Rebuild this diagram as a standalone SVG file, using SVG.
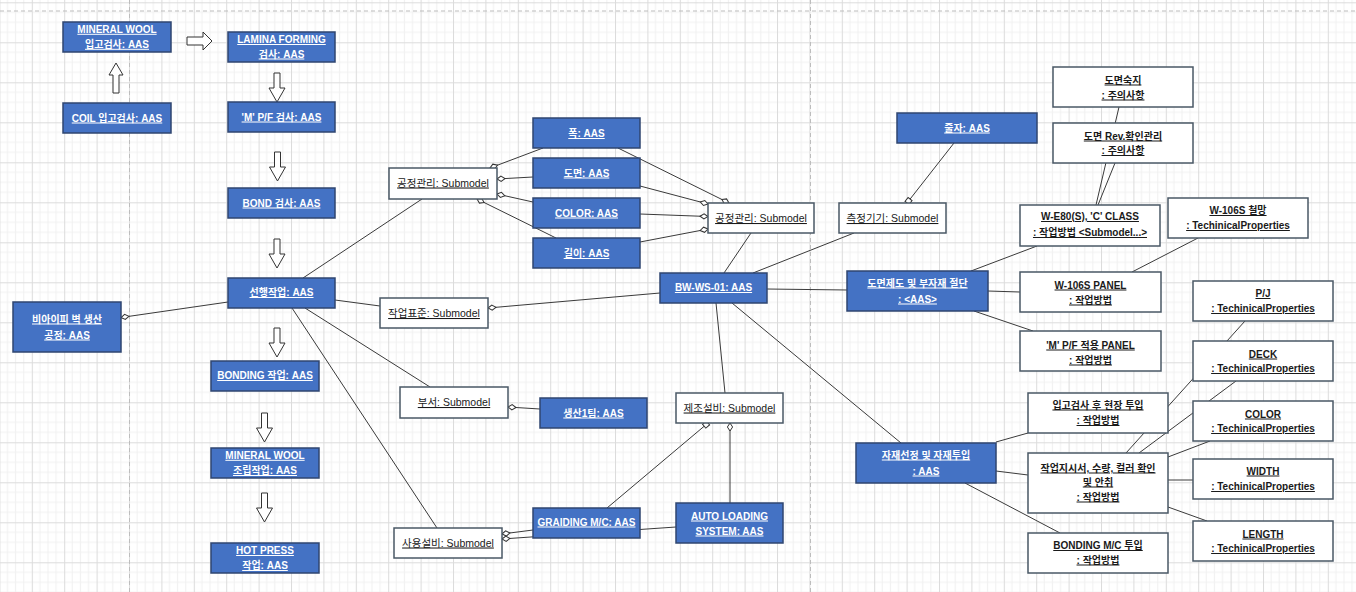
<svg xmlns="http://www.w3.org/2000/svg" xmlns:xlink="http://www.w3.org/1999/xlink" width="1356" height="592" viewBox="0 0 1356 592">
<defs>
<pattern id="grid" patternUnits="userSpaceOnUse" x="-0.6" y="2.3" width="32.4" height="40">
<rect width="32.4" height="40" fill="#fff"/>
<path d="M8.1 0V40M16.2 0V40M24.3 0V40M0 10H32.4M0 20H32.4M0 30H32.4" stroke="#f1f1f1" stroke-width="1"/>
<path d="M0.5 0V40M0 0.5H32.4" stroke="#dcdcdc" stroke-width="1"/>
</pattern>
<marker id="dia" markerUnits="userSpaceOnUse" viewBox="-1 -4 11 8" refX="8" refY="0" markerWidth="11" markerHeight="8" orient="auto">
<path d="M0 0L4 -2.6L8 0L4 2.6Z" fill="#fff" stroke="#333" stroke-width="1"/>
</marker>
<marker id="sq" markerUnits="userSpaceOnUse" viewBox="-1 -4 8 8" refX="5" refY="0" markerWidth="8" markerHeight="8" orient="auto">
<path d="M0 -2.5H5V2.5H0Z" fill="#fff" stroke="#333" stroke-width="1"/>
</marker>
<path id="dn" d="M-3 0H3V15H8L0 29L-8 15H-3Z"/>
<path id="up" d="M0 0L7 12H3V30H-3V12H-7Z"/>
<style>
.b{fill:#4472C4;stroke:#2F4670;stroke-width:1.5}
.w{fill:#fff;stroke:#4A5866;stroke-width:1.5}
text{font-family:"Liberation Sans","Noto Sans CJK KR",sans-serif;text-anchor:middle;text-decoration:underline}
.tb{font-size:10px;font-weight:bold;fill:#fff}
.td{font-size:10px;font-weight:bold;fill:#1a1a1a}
.ts{font-size:10.5px;fill:#1a1a1a}
.c{stroke:#3a3a3a;stroke-width:1;fill:none}
.ar{fill:#fff;stroke:#333;stroke-width:1}
.pg{stroke:#bdbdbd;stroke-width:1;stroke-dasharray:4 3}
</style>
</defs>
<rect width="1356" height="592" fill="url(#grid)"/>
<path class="pg" d="M0 11H1356M129.5 0V592M810.5 0V592"/>

<g id="block-arrows">
<path class="ar" d="M187 37H203V32L212 41L203 50V45H187Z"/>
<use class="ar" href="#up" transform="translate(116,63)"/>
<use class="ar" href="#dn" transform="translate(277,73)"/>
<use class="ar" href="#dn" transform="translate(277.5,152)"/>
<use class="ar" href="#dn" transform="translate(277,239)"/>
<use class="ar" href="#dn" transform="translate(277,328)"/>
<use class="ar" href="#dn" transform="translate(264.5,413)"/>
<use class="ar" href="#dn" transform="translate(264.5,493)"/>
</g>

<g id="connectors">
<line class="c" x1="228" y1="302" x2="121" y2="317.5" marker-end="url(#dia)"/>
<line class="c" x1="303" y1="278" x2="422" y2="199"/>
<line class="c" x1="543" y1="148" x2="490" y2="168" marker-end="url(#dia)"/>
<line class="c" x1="533" y1="177" x2="497" y2="179" marker-end="url(#dia)"/>
<line class="c" x1="533" y1="202" x2="497" y2="194" marker-end="url(#dia)"/>
<line class="c" x1="556" y1="238" x2="477" y2="199" marker-end="url(#dia)"/>
<line class="c" x1="618" y1="148" x2="729" y2="203" marker-end="url(#dia)"/>
<line class="c" x1="640" y1="186" x2="708" y2="204" marker-end="url(#dia)"/>
<line class="c" x1="640" y1="214" x2="708" y2="216.5" marker-end="url(#dia)"/>
<line class="c" x1="640" y1="242" x2="708" y2="229" marker-end="url(#dia)"/>
<line class="c" x1="751" y1="233" x2="724" y2="273"/>
<line class="c" x1="854" y1="233" x2="753" y2="273"/>
<line class="c" x1="954" y1="143" x2="907" y2="203" marker-end="url(#sq)"/>
<line class="c" x1="335" y1="300" x2="380" y2="306"/>
<line class="c" x1="660" y1="293" x2="488" y2="308" marker-end="url(#dia)"/>
<line class="c" x1="305" y1="308" x2="430" y2="387"/>
<line class="c" x1="540" y1="409" x2="508" y2="407" marker-end="url(#dia)"/>
<line class="c" x1="292" y1="308" x2="437" y2="528"/>
<line class="c" x1="533" y1="530" x2="502" y2="534" marker-end="url(#dia)"/>
<line class="c" x1="676" y1="527" x2="502" y2="539" marker-end="url(#dia)"/>
<line class="c" x1="607" y1="508" x2="708" y2="423" marker-end="url(#sq)"/>
<line class="c" x1="730" y1="503" x2="730" y2="423" marker-end="url(#dia)"/>
<line class="c" x1="716" y1="303" x2="725" y2="393"/>
<line class="c" x1="732" y1="303" x2="901" y2="443"/>
<line class="c" x1="767" y1="289" x2="847" y2="290"/>
<line class="c" x1="971" y1="271" x2="1037" y2="246"/>
<line class="c" x1="988" y1="291" x2="1020" y2="292"/>
<line class="c" x1="974" y1="311" x2="1033" y2="331"/>
<line class="c" x1="1096" y1="205" x2="1119" y2="107"/>
<line class="c" x1="1098" y1="205" x2="1115" y2="163"/>
<line class="c" x1="1198" y1="238" x2="1132" y2="272"/>
<line class="c" x1="996" y1="442" x2="1028" y2="433"/>
<line class="c" x1="996" y1="471" x2="1028" y2="475"/>
<line class="c" x1="965" y1="483" x2="1060" y2="533"/>
<line class="c" x1="1245" y1="321" x2="1126" y2="453"/>
<line class="c" x1="1236" y1="381" x2="1139" y2="453"/>
<line class="c" x1="1210" y1="441" x2="1168" y2="457"/>
<line class="c" x1="1193" y1="480" x2="1168" y2="480"/>
<line class="c" x1="1207" y1="521" x2="1168" y2="507"/>
</g>

<g id="n-mineral-wool"><rect class="b" x="63" y="22" width="108" height="30"/><text class="tb" x="117" y="32.8">MINERAL WOOL</text><text class="tb" x="117" y="47.8">입고검사: AAS</text></g>
<g id="n-lamina"><rect class="b" x="228" y="32" width="107" height="30"/><text class="tb" x="281.5" y="43">LAMINA FORMING</text><text class="tb" x="281.5" y="57.5">검사: AAS</text></g>
<g id="n-coil"><rect class="b" x="63" y="103" width="108" height="30"/><text class="tb" x="117" y="121.5">COIL 입고검사: AAS</text></g>
<g id="n-mpf"><rect class="b" x="228" y="102" width="107" height="30"/><text class="tb" x="281.5" y="120.5">'M' P/F 검사: AAS</text></g>
<g id="n-bond"><rect class="b" x="228" y="188" width="107" height="30"/><text class="tb" x="281.5" y="206.5">BOND 검사: AAS</text></g>
<g id="n-prework"><rect class="b" x="228" y="278" width="107" height="30"/><text class="tb" x="281.5" y="296">선행작업: AAS</text></g>
<g id="n-bip"><rect class="b" x="13" y="302" width="108" height="50"/><text class="tb" x="67" y="322.5">비아이피 벽 생산</text><text class="tb" x="67" y="338.5">공정: AAS</text></g>
<g id="n-bonding"><rect class="b" x="211" y="361" width="108" height="30"/><text class="tb" x="265" y="379">BONDING 작업: AAS</text></g>
<g id="n-mw-assembly"><rect class="b" x="211" y="448" width="108" height="30"/><text class="tb" x="265" y="458.8">MINERAL WOOL</text><text class="tb" x="265" y="474">조립작업: AAS</text></g>
<g id="n-hotpress"><rect class="b" x="211" y="543" width="108" height="30"/><text class="tb" x="265" y="554">HOT PRESS</text><text class="tb" x="265" y="569">작업: AAS</text></g>

<g id="n-pok"><rect class="b" x="533" y="118" width="107" height="30"/><text class="tb" x="586.5" y="137">폭: AAS</text></g>
<g id="n-domyeon"><rect class="b" x="533" y="158" width="107" height="30"/><text class="tb" x="586.5" y="176.5">도면: AAS</text></g>
<g id="n-color"><rect class="b" x="533" y="198" width="107" height="30"/><text class="tb" x="586.5" y="216.5">COLOR: AAS</text></g>
<g id="n-length"><rect class="b" x="533" y="238" width="107" height="30"/><text class="tb" x="586.5" y="257">길이: AAS</text></g>
<g id="n-team"><rect class="b" x="540" y="398" width="107" height="30"/><text class="tb" x="593.5" y="416.5">생산1팀: AAS</text></g>
<g id="n-bwws"><rect class="b" x="660" y="273" width="107" height="30"/><text class="tb" x="713.5" y="291">BW-WS-01: AAS</text></g>
<g id="n-ruler"><rect class="b" x="897" y="113" width="140" height="30"/><text class="tb" x="967" y="131.5">줄자: AAS</text></g>
<g id="n-drawing"><rect class="b" x="847" y="271" width="141" height="40"/><text class="tb" x="917.5" y="286.5">도면제도 및 부자재 절단</text><text class="tb" x="917.5" y="302.5">: &lt;AAS&gt;</text></g>
<g id="n-grading"><rect class="b" x="533" y="508" width="107" height="30"/><text class="tb" x="586.5" y="525.5">GRAIDING M/C: AAS</text></g>
<g id="n-autoload"><rect class="b" x="676" y="503" width="107" height="40"/><text class="tb" x="729.5" y="519.5">AUTO LOADING</text><text class="tb" x="729.5" y="534.5">SYSTEM: AAS</text></g>
<g id="n-material"><rect class="b" x="856" y="443" width="140" height="40"/><text class="tb" x="926" y="458.5">자재선정 및 자재투입</text><text class="tb" x="926" y="474.5">: AAS</text></g>

<g id="s-process-l"><rect class="w" x="389" y="168" width="108" height="31"/><text class="ts" x="443" y="186.5">공정관리: Submodel</text></g>
<g id="s-process-r"><rect class="w" x="708" y="203" width="106" height="30"/><text class="ts" x="761" y="222">공정관리: Submodel</text></g>
<g id="s-measure"><rect class="w" x="839" y="203" width="107" height="30"/><text class="ts" x="892.5" y="222">측정기기: Submodel</text></g>
<g id="s-standard"><rect class="w" x="380" y="298" width="108" height="30"/><text class="ts" x="434" y="317">작업표준: Submodel</text></g>
<g id="s-dept"><rect class="w" x="400" y="387" width="108" height="31"/><text class="ts" x="454" y="406">부서: Submodel</text></g>
<g id="s-mfg"><rect class="w" x="676" y="393" width="107" height="30"/><text class="ts" x="729.5" y="411.5">제조설비: Submodel</text></g>
<g id="s-equip"><rect class="w" x="394" y="528" width="108" height="30"/><text class="ts" x="448" y="546.5">사용설비: Submodel</text></g>

<g id="r-study"><rect class="w" x="1053" y="67" width="140" height="40"/><text class="td" x="1123" y="83.5">도면숙지</text><text class="td" x="1123" y="98.5">: 주의사항</text></g>
<g id="r-rev"><rect class="w" x="1053" y="123" width="140" height="40"/><text class="td" x="1123" y="139.5">도면 Rev.확인관리</text><text class="td" x="1123" y="154">: 주의사항</text></g>
<g id="r-we80"><rect class="w" x="1020" y="205" width="140" height="41"/><text class="td" x="1090" y="220">W-E80(S), 'C' CLASS</text><text class="td" x="1090" y="236">: 작업방법 &lt;Submodel...&gt;</text></g>
<g id="r-w106mesh"><rect class="w" x="1168" y="198" width="140" height="40"/><text class="td" x="1238" y="214">W-106S 철망</text><text class="td" x="1238" y="229">: TechinicalProperties</text></g>
<g id="r-w106panel"><rect class="w" x="1020" y="272" width="141" height="40"/><text class="td" x="1090.5" y="288.5">W-106S PANEL</text><text class="td" x="1090.5" y="303.5">: 작업방법</text></g>
<g id="r-mpfpanel"><rect class="w" x="1020" y="331" width="141" height="40"/><text class="td" x="1090.5" y="348.5">'M' P/F 적용 PANEL</text><text class="td" x="1090.5" y="363.5">: 작업방법</text></g>
<g id="r-pj"><rect class="w" x="1193" y="281" width="140" height="40"/><text class="td" x="1263" y="297">P/J</text><text class="td" x="1263" y="312">: TechinicalProperties</text></g>
<g id="r-deck"><rect class="w" x="1193" y="341" width="140" height="40"/><text class="td" x="1263" y="357.5">DECK</text><text class="td" x="1263" y="372">: TechinicalProperties</text></g>
<g id="r-incoming"><rect class="w" x="1028" y="393" width="140" height="40"/><text class="td" x="1098" y="408.5">입고검사 후 현장 투입</text><text class="td" x="1098" y="424">: 작업방법</text></g>
<g id="r-workorder"><rect class="w" x="1028" y="453" width="140" height="60"/><text class="td" x="1098" y="471.5">작업지시서, 수량, 컬러  확인</text><text class="td" x="1098" y="485.5">및 안취</text><text class="td" x="1098" y="500.5">: 작업방법</text></g>
<g id="r-bondingmc"><rect class="w" x="1028" y="533" width="140" height="40"/><text class="td" x="1098" y="549">BONDING M/C 투입</text><text class="td" x="1098" y="563.5">: 작업방법</text></g>
<g id="r-color"><rect class="w" x="1193" y="401" width="140" height="40"/><text class="td" x="1263" y="417.5">COLOR</text><text class="td" x="1263" y="432">: TechinicalProperties</text></g>
<g id="r-width"><rect class="w" x="1193" y="459" width="140" height="40"/><text class="td" x="1263" y="474.5">WIDTH</text><text class="td" x="1263" y="490">: TechinicalProperties</text></g>
<g id="r-lengthtp"><rect class="w" x="1193" y="521" width="140" height="40"/><text class="td" x="1263" y="537.5">LENGTH</text><text class="td" x="1263" y="552">: TechinicalProperties</text></g>
</svg>
